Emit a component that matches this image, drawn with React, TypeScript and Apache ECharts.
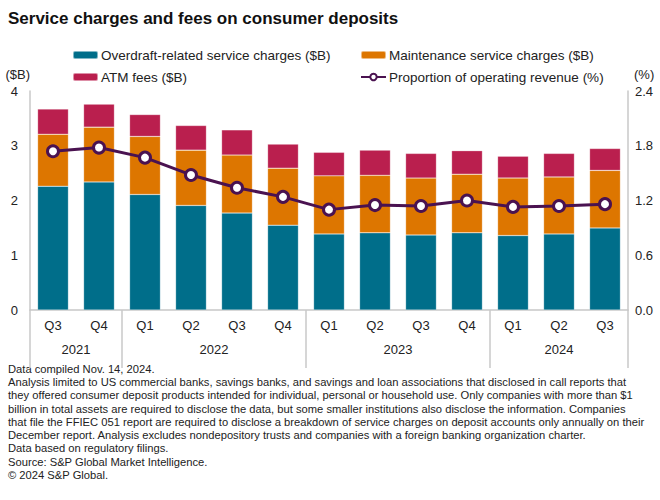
import React, { useEffect, useRef } from "react";
import * as echarts from "echarts";

const quarters = ["Q3", "Q4", "Q1", "Q2", "Q3", "Q4", "Q1", "Q2", "Q3", "Q4", "Q1", "Q2", "Q3"];
const years = ["2021", "2021", "2022", "2022", "2022", "2022", "2023", "2023", "2023", "2023", "2024", "2024", "2024"];
const overdraft = [2.26, 2.34, 2.11, 1.91, 1.77, 1.55, 1.39, 1.41, 1.37, 1.41, 1.36, 1.39, 1.50];
const maintenance = [0.95, 1.0, 1.06, 1.01, 1.06, 1.04, 1.06, 1.05, 1.04, 1.07, 1.05, 1.04, 1.05];
const atm = [0.46, 0.42, 0.4, 0.45, 0.46, 0.44, 0.43, 0.46, 0.45, 0.43, 0.4, 0.43, 0.4];
const proportion = [1.74, 1.78, 1.67, 1.48, 1.34, 1.24, 1.1, 1.15, 1.14, 1.2, 1.13, 1.14, 1.16];
const leftTicks = { min: 0, max: 4, interval: 1 };
const rightTicks = { min: 0, max: 2.4, interval: 0.6 };

const title = "Service charges and fees on consumer deposits";
const notes = [
  "Data compiled Nov. 14, 2024.",
  "Analysis limited to US commercial banks, savings banks, and savings and loan associations that disclosed in call reports that\nthey offered consumer deposit products intended for individual, personal or household use. Only companies with more than $1\nbillion in total assets are required to disclose the data, but some smaller institutions also disclose the information. Companies\nthat file the FFIEC 051 report are required to disclose a breakdown of service charges on deposit accounts only annually on their\nDecember report. Analysis excludes nondepository trusts and companies with a foreign banking organization charter.",
  "Data based on regulatory filings.",
  "Source: S&P Global Market Intelligence.",
  "© 2024 S&P Global.",
];

const FONT = "'Liberation Sans', Arial, sans-serif";
const TEAL = "#006E8A";
const ORANGE = "#DD7600";
const CRIMSON = "#BA1F4E";
const PURPLE = "#4A1250";
const AXIS = "#c8c8c8";

// year group boundaries and centers from the categories
const groups: { year: string; start: number; end: number }[] = [];
years.forEach((y, i) => {
  const g = groups[groups.length - 1];
  if (g && g.year === y) g.end = i + 1;
  else groups.push({ year: y, start: i, end: i + 1 });
});
const boundaries = [0, ...groups.map((g) => g.end)];
const centers = groups.map((g) => (g.start + g.end) / 2);

export default function App() {
  const ref = useRef<HTMLDivElement>(null);
  useEffect(() => {
    if (!ref.current) return;
    const chart = echarts.init(ref.current, undefined, { renderer: "svg" });
    const noteLines: any[] = [];
    const LH = 13.3;
    let y = 362;
    notes.forEach((n) => {
      noteLines.push({
        type: "text",
        left: 8,
        top: y,
        style: { text: n, font: `11.2px ${FONT}`, fill: "#222", lineHeight: LH },
      });
      y += n.split("\n").length * LH;
    });
    chart.setOption({
      animation: false,
      textStyle: { fontFamily: FONT },
      title: {
        text: title,
        left: 3,
        top: 5,
        textStyle: { fontSize: 17, fontWeight: "bold", color: "#111", fontFamily: FONT },
      },
      legend: [
        {
          left: 67,
          top: 43,
          orient: "vertical",
          itemWidth: 25,
          itemHeight: 8,
          itemGap: 8,
          data: ["Overdraft-related service charges ($B)", "ATM fees ($B)"],
          textStyle: { fontSize: 13.5, color: "#222", padding: [0, 0, 0, -2] },
        },
        {
          left: 355,
          top: 43,
          orient: "vertical",
          itemWidth: 25,
          itemHeight: 8,
          itemGap: 8,
          data: ["Maintenance service charges ($B)", "Proportion of operating revenue (%)"],
          textStyle: { fontSize: 13.5, color: "#222", padding: [0, 0, 0, -2] },
        },
      ],
      grid: { left: 30, right: 32, top: 91, bottom: 190 },
      xAxis: [
        {
          type: "category",
          data: quarters,
          position: "bottom",
          axisLine: { lineStyle: { color: AXIS, width: 1.5 } },
          axisTick: { show: false },
          axisLabel: { color: "#222", fontSize: 13, margin: 9 },
        },
        {
          type: "value",
          min: 0,
          max: quarters.length,
          position: "bottom",
          axisLine: { show: false },
          splitLine: { show: false },
          axisTick: {
            show: true,
            customValues: boundaries,
            length: 58,
            lineStyle: { color: AXIS, width: 1.5 },
          },
          axisLabel: {
            customValues: centers,
            margin: 33,
            color: "#222",
            fontSize: 13,
            formatter: (v: number) => {
              const i = centers.findIndex((c) => Math.abs(c - v) < 1e-6);
              return i >= 0 ? groups[i].year : "";
            },
          },
        },
      ],
      yAxis: [
        {
          type: "value",
          ...leftTicks,
          name: "($B)",
          nameLocation: "end",
          nameGap: 10,
          nameTextStyle: { color: "#222", fontSize: 13, align: "right", padding: [0, 0, 0, 0] },
          axisLine: { show: true, lineStyle: { color: AXIS, width: 1.5 } },
          axisTick: { show: false },
          splitLine: { show: false },
          axisLabel: { color: "#222", fontSize: 13, margin: 12 },
        },
        {
          type: "value",
          ...rightTicks,
          position: "right",
          name: "(%)",
          nameLocation: "end",
          nameGap: 10,
          nameTextStyle: { color: "#222", fontSize: 13, align: "left", padding: [0, 0, 0, 6] },
          axisLine: { show: true, lineStyle: { color: AXIS, width: 1.5 } },
          axisTick: { show: false },
          splitLine: { show: false },
          axisLabel: { color: "#222", fontSize: 13, margin: 7, formatter: (v: number) => v.toFixed(1) },
        },
      ],
      series: [
        {
          name: "Overdraft-related service charges ($B)",
          type: "bar",
          stack: "s",
          data: overdraft,
          barWidth: "67%",
          itemStyle: { color: TEAL, borderColor: "rgba(255,255,255,0.5)", borderWidth: 0.5 },
        },
        {
          name: "Maintenance service charges ($B)",
          type: "bar",
          stack: "s",
          data: maintenance,
          itemStyle: { color: ORANGE, borderColor: "rgba(255,255,255,0.5)", borderWidth: 0.5 },
        },
        {
          name: "ATM fees ($B)",
          type: "bar",
          stack: "s",
          data: atm,
          itemStyle: { color: CRIMSON, borderColor: "rgba(255,255,255,0.5)", borderWidth: 0.5 },
        },
        {
          name: "Proportion of operating revenue (%)",
          type: "line",
          yAxisIndex: 1,
          data: proportion,
          z: 10,
          symbol: "circle",
          symbolSize: 11,
          lineStyle: { color: PURPLE, width: 3 },
          itemStyle: { color: "#fff", borderColor: PURPLE, borderWidth: 3 },
        },
      ],
      graphic: noteLines,
    });
    return () => chart.dispose();
  }, []);
  return <div ref={ref} style={{ width: 660, height: 500, position: "absolute", left: 0, top: 0 }} />;
}
